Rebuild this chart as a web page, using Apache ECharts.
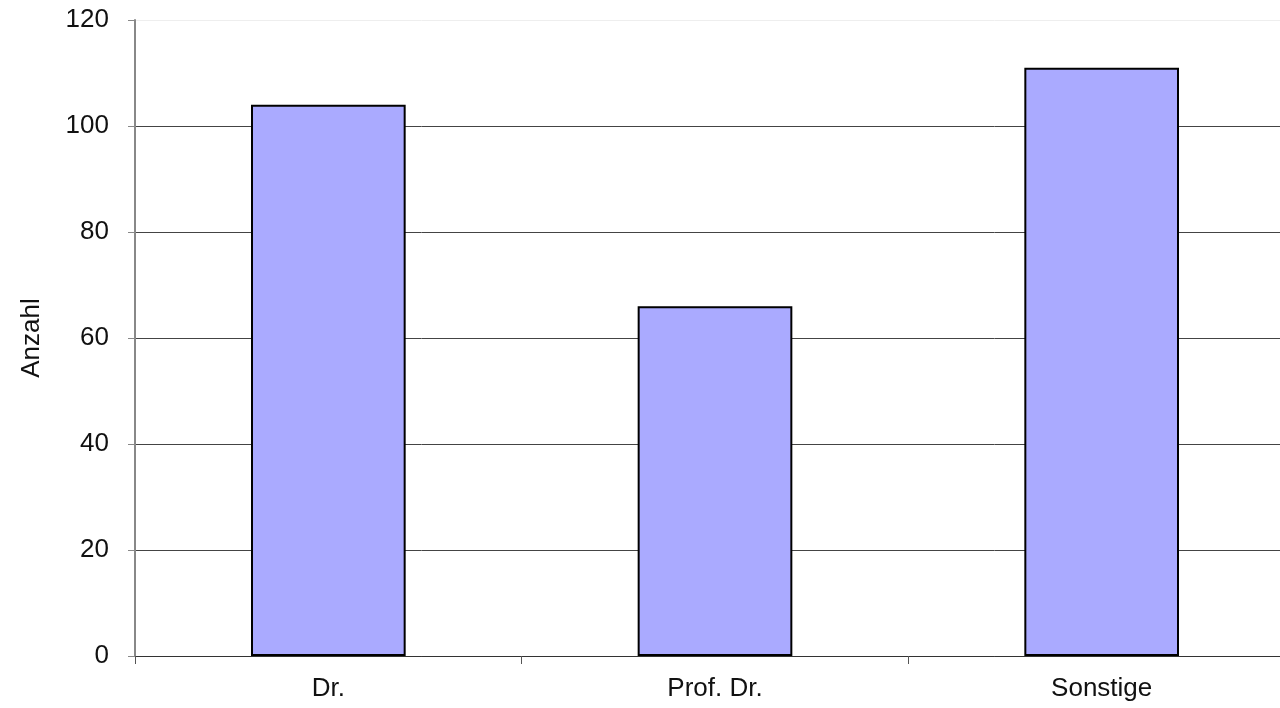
<!DOCTYPE html>
<html><head><meta charset="utf-8">
<script src="https://cdn.jsdelivr.net/npm/echarts@6/dist/echarts.min.js"></script>
<style>html,body{margin:0;padding:0;background:#fff}#c{width:1280px;height:708px}</style>
</head><body><div id="c"></div>
<script>
const categories = ['Dr.', 'Prof. Dr.', 'Sonstige'];
const values = [104, 66, 111];
const yTicks = [0, 20, 40, 60, 80, 100, 120];
const chart = echarts.init(document.getElementById('c'));
chart.setOption({
  animation: false,
  textStyle: { fontFamily: 'Liberation Sans, Arial, sans-serif' },
  grid: { left: 135, top: 20, bottom: 52, right: -15, outerBoundsMode: 'none', containLabel: false },
  xAxis: {
    type: 'category', data: categories,
    axisLine: { lineStyle: { color: '#333', width: 1 } },
    axisTick: { show: true, length: 8, lineStyle: { color: '#555' } },
    axisLabel: { fontSize: 26, color: '#111', margin: 20 }
  },
  yAxis: {
    type: 'value', min: yTicks[0], max: yTicks[yTicks.length - 1], interval: 20,
    name: 'Anzahl', nameLocation: 'middle', nameGap: 90, nameRotate: 90,
    nameTextStyle: { fontSize: 26, color: '#111' },
    axisLine: { show: true, lineStyle: { color: '#888', width: 2 } },
    axisTick: { show: true, length: 7, lineStyle: { color: '#888' } },
    axisLabel: { fontSize: 26, color: '#111', margin: 26 },
    splitLine: { show: true, lineStyle: { color: ['#444', '#444', '#444', '#444', '#444', '#444', '#eeeeee'], width: 1 } }
  },
  series: [{
    type: 'bar', data: values, barWidth: '40%',
    itemStyle: { color: '#aaaaff', borderColor: '#000', borderWidth: 2 }
  }]
});
</script></body></html>
